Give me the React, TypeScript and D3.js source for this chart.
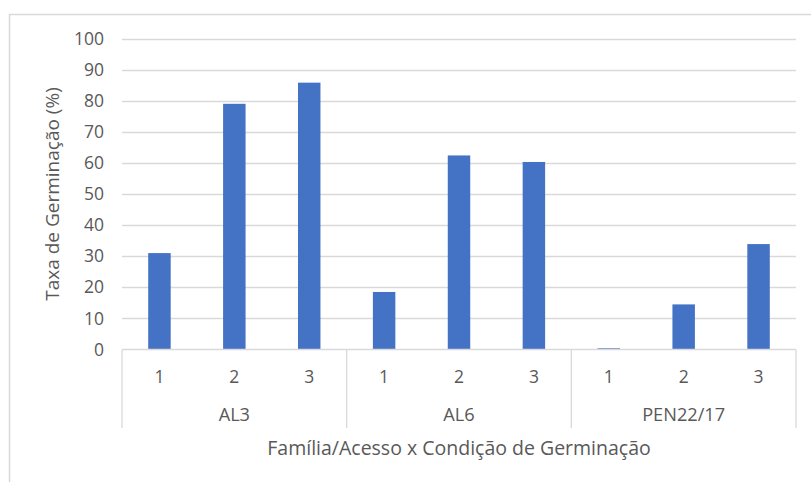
import React from "react";
import * as d3 from "d3";

const groups = ["AL3", "AL6", "PEN22/17"];
const conditions = ["1", "2", "3"];
const al3Values = [31.0, 79.0, 85.8];
const al6Values = [18.5, 62.4, 60.3];
const penValues = [0.4, 14.5, 33.9];
const yTicks = [0, 10, 20, 30, 40, 50, 60, 70, 80, 90, 100];
const yTitle = "Taxa de Germinação (%)";
const xTitle = "Família/Acesso x Condição de Germinação";

const seriesByGroup = [al3Values, al6Values, penValues];

const W = 811;
const H = 482;
const left = 122;
const right = 796;
const top = 38.5;
const bottom = 349.5;
const FONT = "'Open Sans', sans-serif";
const TEXT = "#595959";
const GRID = "#d9d9d9";

export default function App() {
  const y = d3.scaleLinear().domain([0, 100]).range([bottom, top]);
  const xg = d3.scaleBand().domain(groups).range([left, right]);
  const xc = d3
    .scaleBand()
    .domain(conditions)
    .range([0, xg.bandwidth()])
    .paddingInner(0.7)
    .paddingOuter(0.35);

  const bars = groups.flatMap((g, gi) =>
    conditions.map((c, ci) => ({ g, c, v: seriesByGroup[gi][ci] }))
  );

  const seps = [...groups.map((g) => xg(g) as number), right];

  return (
    <svg
      width={W}
      height={H}
      style={{ position: "absolute", left: 0, top: 0, background: "#fff" }}
      fontFamily={FONT}
    >
      <rect x={9.5} y={14.5} width={W} height={H} fill="#fff" stroke={GRID} strokeWidth={1.5} />
      {yTicks.map((t) => (
        <g key={t}>
          {t > 0 && (
            <line x1={left} x2={right} y1={Math.round(y(t)) + 0.5} y2={Math.round(y(t)) + 0.5} stroke={GRID} strokeWidth={1.3} />
          )}
          <text x={104} y={y(t)} dy="0.35em" textAnchor="end" fontSize={17.5} fill={TEXT}>
            {t}
          </text>
        </g>
      ))}
      {bars.map((b) => (
        <rect
          key={b.g + b.c}
          x={(xg(b.g) as number) + (xc(b.c) as number)}
          width={xc.bandwidth()}
          y={y(b.v)}
          height={bottom - y(b.v)}
          fill="#4472c4"
        />
      ))}
      <line x1={left} x2={right} y1={bottom} y2={bottom} stroke={GRID} strokeWidth={1.3} />
      {seps.map((s, i) => (
        <line key={i} x1={s} x2={s} y1={bottom} y2={428} stroke={GRID} strokeWidth={1.3} />
      ))}
      {groups.map((g) =>
        conditions.map((c) => (
          <text
            key={g + c}
            x={(xg(g) as number) + (xc(c) as number) + xc.bandwidth() / 2}
            y={377}
            dy="0.35em"
            textAnchor="middle"
            fontSize={17.5}
            fill={TEXT}
          >
            {c}
          </text>
        ))
      )}
      {groups.map((g) => (
        <text
          key={g}
          x={(xg(g) as number) + xg.bandwidth() / 2}
          y={415}
          dy="0.35em"
          textAnchor="middle"
          fontSize={18.2}
          fill={TEXT}
        >
          {g}
        </text>
      ))}
      <text x={459} y={448} dy="0.35em" textAnchor="middle" fontSize={19.5} fill={TEXT}>
        {xTitle}
      </text>
      <text
        transform={`translate(52,194) rotate(-90)`}
        dy="0.35em"
        textAnchor="middle"
        fontSize={19}
        fill={TEXT}
      >
        {yTitle}
      </text>
    </svg>
  );
}
